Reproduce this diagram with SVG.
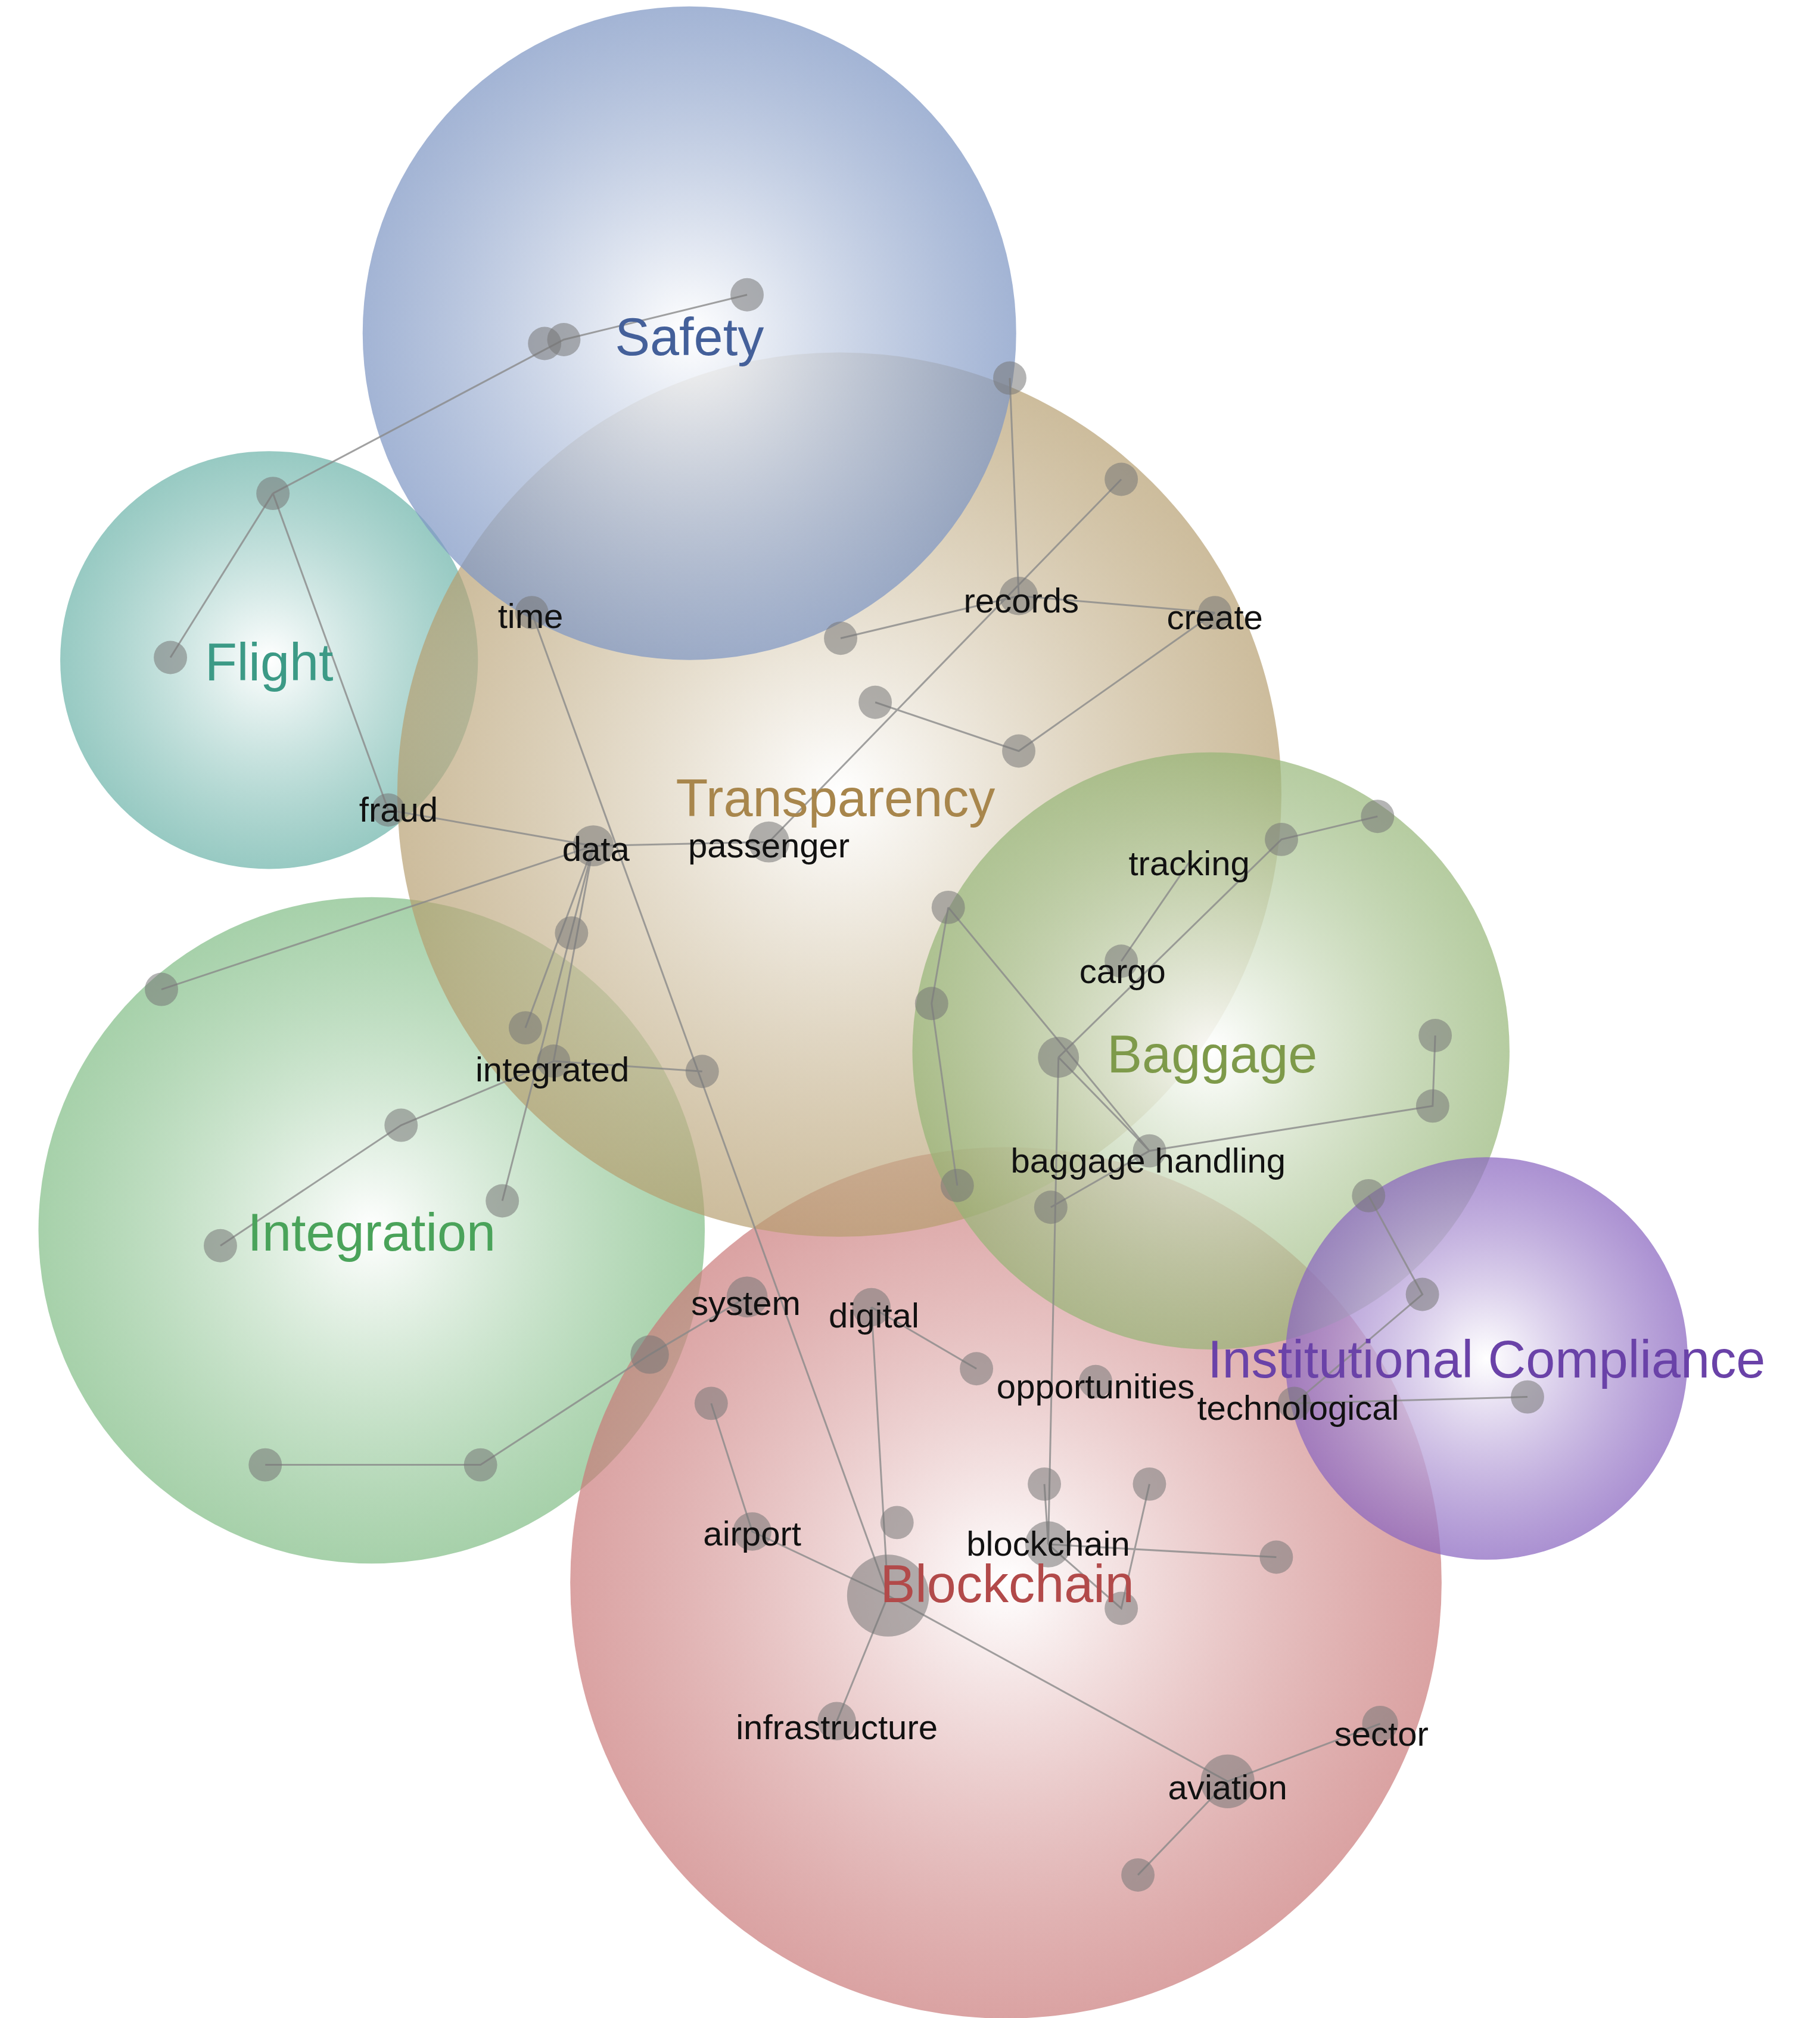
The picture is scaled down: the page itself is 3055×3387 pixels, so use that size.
<svg xmlns="http://www.w3.org/2000/svg" width="3055" height="3387" viewBox="0 0 3055 3387">
<defs>
<radialGradient id="gS"><stop offset="0" stop-color="#fff" stop-opacity="0.9"/><stop offset="1" stop-color="#7f97c4" stop-opacity="0.72"/></radialGradient>
<radialGradient id="gT"><stop offset="0" stop-color="#fff" stop-opacity="0.85"/><stop offset="1" stop-color="#b59d6e" stop-opacity="0.68"/></radialGradient>
<radialGradient id="gF"><stop offset="0" stop-color="#fff" stop-opacity="0.9"/><stop offset="1" stop-color="#6fb5ab" stop-opacity="0.72"/></radialGradient>
<radialGradient id="gI"><stop offset="0" stop-color="#fff" stop-opacity="0.9"/><stop offset="1" stop-color="#7dbb82" stop-opacity="0.68"/></radialGradient>
<radialGradient id="gB"><stop offset="0" stop-color="#fff" stop-opacity="0.9"/><stop offset="1" stop-color="#93b474" stop-opacity="0.68"/></radialGradient>
<radialGradient id="gK"><stop offset="0" stop-color="#fff" stop-opacity="0.9"/><stop offset="1" stop-color="#c97777" stop-opacity="0.68"/></radialGradient>
<radialGradient id="gC"><stop offset="0" stop-color="#fff" stop-opacity="0.9"/><stop offset="1" stop-color="#8a66c0" stop-opacity="0.72"/></radialGradient>
</defs>
<style>
.e{stroke:#8a8a8a;stroke-width:1.4;fill:none;opacity:0.8}
.n{fill:#777;opacity:0.55}
.w{font-family:"Liberation Sans",Arial,sans-serif;font-size:27px;fill:#111;text-anchor:middle}
.t{font-family:"Liberation Sans",Arial,sans-serif;font-size:41px;text-anchor:middle}
</style>
<rect width="3055" height="3387" fill="#fff"/>
<g transform="scale(2.151)">
<g id="themes">
<g id="theme-flight"><circle cx="210" cy="515" r="163" fill="url(#gF)"/></g>
<g id="theme-integration"><circle cx="290" cy="960" r="260" fill="url(#gI)"/></g>
<g id="theme-blockchain"><circle cx="785" cy="1235" r="340" fill="url(#gK)"/></g>
<g id="theme-transparency"><circle cx="655" cy="620" r="345" fill="url(#gT)"/></g>
<g id="theme-baggage"><circle cx="945" cy="820" r="233" fill="url(#gB)"/></g>
<g id="theme-safety"><circle cx="538" cy="260" r="255" fill="url(#gS)"/></g>
<g id="theme-compliance"><circle cx="1160" cy="1060" r="157" fill="url(#gC)"/></g>
</g>
<g id="connectors">
<path class="e" d="M213 385L440 265L583 230M213 385L133 513M213 385L303 632L463 660L600 657M415 478L693 1245M788 295L795 465L948 478M875 374L600 657M656 498L795 465M683 548L795 586L948 478M463 660L126 772M463 660L410 802M463 660L392 937M463 660L432 828M432 828L548 836M432 828L313 878L172 972M1075 637L1000 655L826 825M930 670L875 750M740 708L897 898M740 708L727 783L747 925M826 825L897 898L1118 863L1120 808M820 942L897 898M826 825L818 1205M1068 933L1110 1010L1010 1095L1192 1090M583 1012L507 1057L375 1143L207 1143M680 1020L762 1068M680 1020L693 1245M555 1095L587 1195L693 1245L653 1343M693 1245L958 1390L1077 1345M958 1390L888 1463M818 1205L996 1215M818 1205L815 1158M818 1205L875 1255L897 1158"/>
</g>
<g id="nodes">
<circle class="n" cx="583" cy="230" r="13"/><circle class="n" cx="440" cy="265" r="13"/><circle class="n" cx="425" cy="268" r="13"/><circle class="n" cx="788" cy="295" r="13"/>
<circle class="n" cx="213" cy="385" r="13"/><circle class="n" cx="133" cy="513" r="13"/><circle class="n" cx="415" cy="478" r="13"/>
<circle class="n" cx="795" cy="465" r="15"/><circle class="n" cx="948" cy="478" r="13"/><circle class="n" cx="875" cy="374" r="13"/><circle class="n" cx="656" cy="498" r="13"/><circle class="n" cx="683" cy="548" r="13"/><circle class="n" cx="795" cy="586" r="13"/>
<circle class="n" cx="303" cy="632" r="13"/><circle class="n" cx="463" cy="660" r="16"/><circle class="n" cx="600" cy="657" r="16"/>
<circle class="n" cx="126" cy="772" r="13"/><circle class="n" cx="446" cy="728" r="13"/><circle class="n" cx="410" cy="802" r="13"/><circle class="n" cx="432" cy="828" r="13"/><circle class="n" cx="548" cy="836" r="13"/><circle class="n" cx="313" cy="878" r="13"/><circle class="n" cx="392" cy="937" r="13"/><circle class="n" cx="172" cy="972" r="13"/>
<circle class="n" cx="1000" cy="655" r="13"/><circle class="n" cx="1075" cy="637" r="13"/><circle class="n" cx="875" cy="750" r="13"/><circle class="n" cx="740" cy="708" r="13"/><circle class="n" cx="727" cy="783" r="13"/><circle class="n" cx="826" cy="825" r="16"/><circle class="n" cx="1120" cy="808" r="13"/><circle class="n" cx="1118" cy="863" r="13"/><circle class="n" cx="897" cy="898" r="13"/><circle class="n" cx="747" cy="925" r="13"/><circle class="n" cx="820" cy="942" r="13"/>
<circle class="n" cx="1068" cy="933" r="13"/><circle class="n" cx="1110" cy="1010" r="13"/><circle class="n" cx="1010" cy="1095" r="13"/><circle class="n" cx="1192" cy="1090" r="13"/>
<circle class="n" cx="583" cy="1012" r="16"/><circle class="n" cx="680" cy="1020" r="15"/><circle class="n" cx="762" cy="1068" r="13"/><circle class="n" cx="855" cy="1078" r="13"/><circle class="n" cx="507" cy="1057" r="15"/><circle class="n" cx="375" cy="1143" r="13"/><circle class="n" cx="207" cy="1143" r="13"/><circle class="n" cx="555" cy="1095" r="13"/>
<circle class="n" cx="587" cy="1195" r="15"/><circle class="n" cx="700" cy="1188" r="13"/><circle class="n" cx="693" cy="1245" r="32"/><circle class="n" cx="818" cy="1205" r="18"/><circle class="n" cx="815" cy="1158" r="13"/><circle class="n" cx="897" cy="1158" r="13"/><circle class="n" cx="875" cy="1255" r="13"/><circle class="n" cx="996" cy="1215" r="13"/>
<circle class="n" cx="653" cy="1343" r="15"/><circle class="n" cx="1077" cy="1345" r="14"/><circle class="n" cx="958" cy="1390" r="21"/><circle class="n" cx="888" cy="1463" r="13"/>
</g>
<g id="labels">
<text class="t" x="538" y="277" fill="#44609a">Safety</text>
<text class="t" x="210" y="531" fill="#3c9a86">Flight</text>
<text class="t" x="652" y="637" fill="#a8864c">Transparency</text>
<text class="t" x="290" y="976" fill="#4aa35a">Integration</text>
<text class="t" x="946" y="837" fill="#7e9a4a">Baggage</text>
<text class="t" x="786" y="1250" fill="#b24a4a">Blockchain</text>
<text class="t" x="1160" y="1075" fill="#6a42a8">Institutional Compliance</text>
<text class="w" x="414" y="490">time</text>
<text class="w" x="797" y="478">records</text>
<text class="w" x="948" y="491">create</text>
<text class="w" x="311" y="641">fraud</text>
<text class="w" x="465" y="672">data</text>
<text class="w" x="600" y="669">passenger</text>
<text class="w" x="928" y="683">tracking</text>
<text class="w" x="876" y="767">cargo</text>
<text class="w" x="431" y="844">integrated</text>
<text class="w" x="896" y="915">baggage handling</text>
<text class="w" x="582" y="1026">system</text>
<text class="w" x="682" y="1036">digital</text>
<text class="w" x="855" y="1091">opportunities</text>
<text class="w" x="1013" y="1108">technological</text>
<text class="w" x="587" y="1206">airport</text>
<text class="w" x="818" y="1214">blockchain</text>
<text class="w" x="653" y="1357">infrastructure</text>
<text class="w" x="1078" y="1362">sector</text>
<text class="w" x="958" y="1404">aviation</text>
</g>
</g>
</svg>
